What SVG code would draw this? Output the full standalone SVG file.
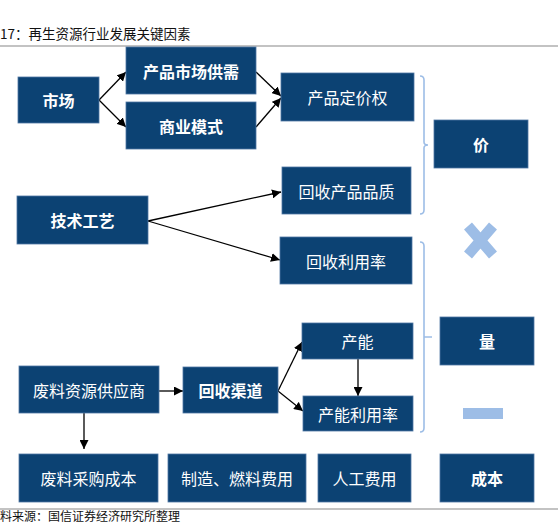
<svg xmlns="http://www.w3.org/2000/svg" width="558" height="522" viewBox="0 0 558 522">
<defs>
<marker id="ah" viewBox="0 0 10 10" refX="10" refY="5" markerWidth="9" markerHeight="9" markerUnits="userSpaceOnUse" orient="auto">
<path d="M0,0 L10,5 L0,10 z" fill="#000"/>
</marker>
<style>
.box{fill:#0c4273;stroke:#4f77a3;stroke-width:0.8}
.t{font-family:"Noto Sans CJK SC","Noto Sans",sans-serif;font-size:16px;fill:#fff;text-anchor:middle;dominant-baseline:central}
.b{font-weight:700}
.c{stroke:#000;stroke-width:1.3;fill:none;marker-end:url(#ah)}
.br{stroke:#9dbde6;stroke-width:1.6;fill:none}
.cap{font-family:"Noto Sans CJK SC","Noto Sans",sans-serif;fill:#111}
</style>
</defs>
<rect width="558" height="522" fill="#fff"/>
<text class="cap" x="0" y="39" font-size="13.5">17：再生资源行业发展关键因素</text>
<line x1="0" y1="46" x2="558" y2="46" stroke="#888" stroke-width="1.2"/>
<line x1="0" y1="509" x2="558" y2="509" stroke="#888" stroke-width="1.2"/>
<text class="cap" x="0" y="520.5" font-size="12">料来源：国信证券经济研究所整理</text>

<g id="connectors">
<line class="c" x1="99" y1="100" x2="126" y2="72"/>
<line class="c" x1="99" y1="100" x2="126" y2="127"/>
<line class="c" x1="256" y1="72" x2="281" y2="96"/>
<line class="c" x1="256" y1="127" x2="281" y2="98"/>
<line class="c" x1="148" y1="221" x2="281" y2="192"/>
<line class="c" x1="148" y1="221" x2="280" y2="260"/>
<line class="c" x1="159" y1="391" x2="183" y2="391"/>
<line class="c" x1="84" y1="413" x2="84" y2="449"/>
<line class="c" x1="278" y1="391" x2="302" y2="342"/>
<line class="c" x1="278" y1="391" x2="303" y2="411"/>
<line class="c" x1="358" y1="359" x2="358" y2="396"/>
</g>

<g id="brackets">
<path class="br" d="M420,76 Q424,76 424,80 L424,142 Q424,145 428,145 Q424,145 424,148 L424,210 Q424,214 420,214"/>
<path class="br" d="M420,242 Q424,242 424,246 L424,337 L432,337 M424,337 L424,428 Q424,432 420,432"/>
</g>

<g id="times">
<path d="M468,226 L493,255 M493,226 L468,255" stroke="#9dbde6" stroke-width="10.5" stroke-linecap="butt"/>
</g>
<g id="minus"><rect x="463" y="408" width="40" height="11" fill="#9dbde6"/></g>

<g id="n-shichang"><rect class="box" x="18" y="77" width="81" height="46"/><text class="t b" x="58.5" y="100">市场</text></g>
<g id="n-gongxu"><rect class="box" x="126" y="47" width="130" height="47"/><text class="t b" x="191" y="70.5">产品市场供需</text></g>
<g id="n-moshi"><rect class="box" x="126" y="102" width="130" height="47"/><text class="t b" x="191" y="125.5">商业模式</text></g>
<g id="n-dingjia"><rect class="box" x="281" y="73" width="133" height="48"/><text class="t" x="347.5" y="97">产品定价权</text></g>
<g id="n-pinzhi"><rect class="box" x="282" y="167" width="129" height="47"/><text class="t" x="346.5" y="190.5">回收产品品质</text></g>
<g id="n-jia"><rect class="box" x="434" y="120" width="94" height="48"/><text class="t b" x="481" y="144">价</text></g>
<g id="n-jishu"><rect class="box" x="17" y="196" width="131" height="48"/><text class="t b" x="82.5" y="220">技术工艺</text></g>
<g id="n-liyonglv"><rect class="box" x="280" y="237" width="132" height="47"/><text class="t" x="346" y="260.5">回收利用率</text></g>
<g id="n-liang"><rect class="box" x="440" y="317" width="94" height="48"/><text class="t b" x="487" y="341">量</text></g>
<g id="n-channeng"><rect class="box" x="302" y="323" width="111" height="36"/><text class="t" x="357.5" y="341">产能</text></g>
<g id="n-cnlyl"><rect class="box" x="303" y="396" width="110" height="35"/><text class="t" x="358" y="413.5">产能利用率</text></g>
<g id="n-gongyingshang"><rect class="box" x="19" y="366" width="140" height="47"/><text class="t" x="89" y="389.5">废料资源供应商</text></g>
<g id="n-qudao"><rect class="box" x="183" y="367" width="95" height="46"/><text class="t b" x="230.5" y="390">回收渠道</text></g>
<g id="n-caigou"><rect class="box" x="19" y="454" width="139" height="48"/><text class="t" x="88.5" y="478">废料采购成本</text></g>
<g id="n-zhizao"><rect class="box" x="168" y="454" width="138" height="48"/><text class="t" x="237" y="478">制造、燃料费用</text></g>
<g id="n-rengong"><rect class="box" x="318" y="454" width="93" height="48"/><text class="t" x="364.5" y="478">人工费用</text></g>
<g id="n-chengben"><rect class="box" x="440" y="454" width="94" height="48"/><text class="t b" x="487" y="478">成本</text></g>
</svg>
